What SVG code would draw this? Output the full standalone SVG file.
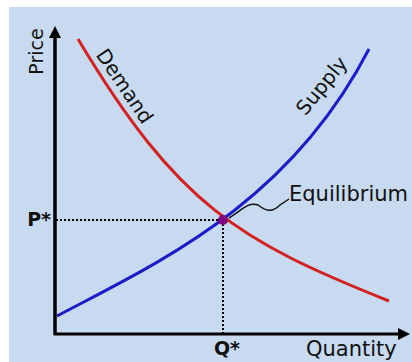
<svg xmlns="http://www.w3.org/2000/svg" width="412" height="362" viewBox="0 0 412 362">
<style>
text{font-family:"DejaVu Sans",sans-serif;fill:#111}
.b{font-weight:bold}
.axis{stroke:#000;stroke-width:3;fill:none}
.dot{stroke:#000;stroke-width:2;stroke-dasharray:2 2;fill:none}
</style>
<defs>
<marker id="ah" viewBox="0 0 12 12" refX="2" refY="6" markerWidth="12" markerHeight="12" markerUnits="userSpaceOnUse" orient="auto">
<path d="M0,0 L12,6 L0,12 Z" fill="#000"/>
</marker>
</defs>
<rect x="9" y="7" width="403" height="355" fill="#c8daf0"/>
<g id="connectors">
<path class="dot" d="M56,220 H223"/>
<path class="dot" d="M223,220 V333"/>
<path id="demand" d="M78,39 C178,206 239,241 389,301" stroke="#d42020" stroke-width="3" fill="none"/>
<path id="supply" d="M57,316 C157,263 288.5,204.75 369,49" stroke="#1c1cc8" stroke-width="3" fill="none"/>
<path d="M229,218 C240,212 248,201 258,205 C266,211 272,213 280,205 L289,199" stroke="#111" stroke-width="1.5" fill="none"/>
</g>
<g id="axes">
<path class="axis" d="M55,36 V334 H400" marker-end="url(#ah)"/>
<path class="axis" d="M55,334 V36" marker-end="url(#ah)"/>
</g>
<g id="equilibrium">
<circle cx="223" cy="220" r="5" fill="#800080"/>
<text x="289" y="201" font-size="21">Equilibrium</text>
</g>
<g id="labels">
<text transform="translate(43,51.5) rotate(-90)" text-anchor="middle" font-size="19">Price</text>
<text transform="translate(119,90) rotate(56)" text-anchor="middle" font-size="20">Demand</text>
<text transform="translate(327,90) rotate(-51)" text-anchor="middle" font-size="20">Supply</text>
<text class="b" x="51" y="226" text-anchor="end" font-size="19">P*</text>
<text class="b" x="227" y="355" text-anchor="middle" font-size="19">Q*</text>
<text x="306" y="356" font-size="21">Quantity</text>
</g>
</svg>
